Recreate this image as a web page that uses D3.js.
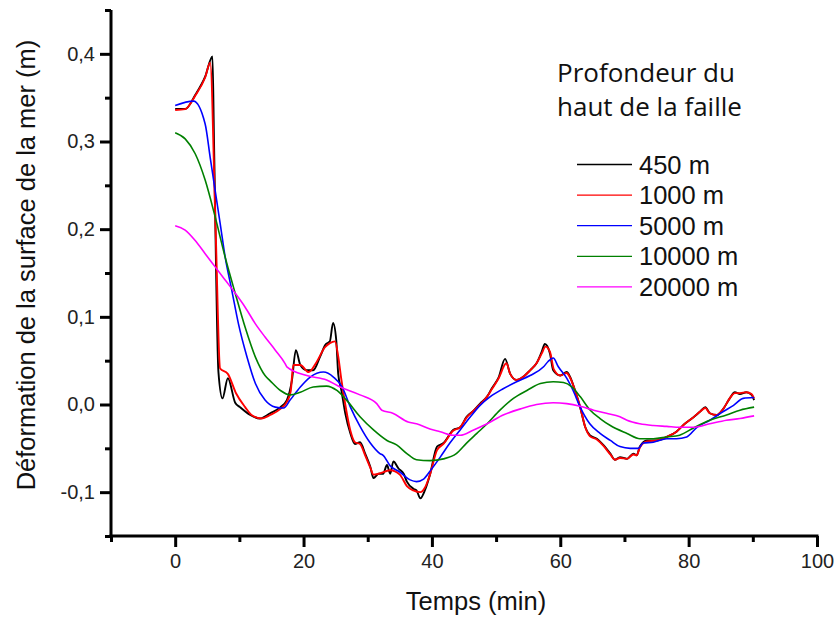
<!DOCTYPE html>
<html><head><meta charset="utf-8">
<script src="https://cdn.jsdelivr.net/npm/d3@7"></script>
<style>body{margin:0;background:#fff}svg{display:block}</style>
</head><body>
<svg id="chart" width="835" height="617"></svg>
<script>
// ---- data ----
const seriesNames = ["450 m", "1000 m", "5000 m", "10000 m", "20000 m"];
const seriesColors = ["#000000", "#ff0000", "#0000ff", "#008000", "#ff00ff"];

const t450 = [0,1.56,3.12,4.67,5.81,6.05,6.74,7.37,8.21,9.35,10.1,11.7,13.2,14.8,16.4,17.4,18.2,18.8,19.5,20.5,21.5,22.6,23.4,24.1,24.6,25.1,25.4,25.9,26.5,27.3,28.0,28.8,29.6,30.4,30.9,31.7,32.4,33.0,33.5,34.0,34.8,35.6,36.1,37.1,37.6,38.2,38.9,39.7,40.8,41.8,43.3,44.4,45.4,46.5,47.5,48.6,49.3,50.4,51.4,52.2,53.2,54.3,55.3,56.3,57.1,57.6,58.4,58.9,60.0,61.0,61.5,62.3,63.1,63.9,64.6,65.7,66.7,67.8,68.5,69.3,70.4,71.4,71.9,72.4,73.5,75.0,76.6,78.1,79.4,80.5,81.8,82.6,83.3,84.4,85.4,86.4,87.2,88.0,89.0,89.8,90.2];
const v450 = [0.337,0.337,0.353,0.374,0.397,0.30,0.037,0.007,0.030,0.002,-0.003,-0.012,-0.016,-0.010,-0.003,0.005,0.028,0.062,0.045,0.039,0.039,0.055,0.068,0.072,0.093,0.073,0.035,0.016,-0.010,-0.033,-0.045,-0.043,-0.056,-0.071,-0.084,-0.079,-0.079,-0.069,-0.079,-0.065,-0.073,-0.079,-0.088,-0.096,-0.098,-0.107,-0.098,-0.080,-0.048,-0.044,-0.029,-0.026,-0.014,-0.007,0.001,0.009,0.018,0.031,0.052,0.035,0.028,0.032,0.039,0.047,0.060,0.069,0.058,0.039,0.033,0.037,0.032,0.016,-0.003,-0.026,-0.035,-0.039,-0.046,-0.056,-0.063,-0.060,-0.062,-0.056,-0.058,-0.048,-0.041,-0.041,-0.037,-0.031,-0.022,-0.016,-0.008,-0.003,-0.010,-0.012,-0.005,0.007,0.014,0.012,0.014,0.011,0.005];

const t1000 = [0,1.56,3.1,4.67,5.45,6.3,7.0,8.2,9.5,10.9,11.9,13.5,14.8,16.4,17.4,18.0,18.4,19.5,20.8,22.0,23.3,24.1,24.9,25.4,25.9,26.5,27.3,28.0,28.8,29.6,30.4,30.9,31.7,33.5,35.0,36.1,37.1,38.2,38.9,39.7,40.8,41.8,43.3,44.4,45.4,46.5,47.5,48.6,49.3,50.4,51.6,52.2,53.2,54.3,55.3,56.3,57.1,57.7,58.4,59.0,60.0,61.0,61.5,62.3,63.1,63.9,64.6,65.7,66.7,67.8,68.5,69.3,70.4,71.4,71.9,72.4,73.5,75.0,76.6,78.1,79.4,80.5,81.8,82.6,83.3,84.4,85.4,86.4,87.2,88.0,89.0,89.8,90.2];
const v1000 = [0.336,0.337,0.352,0.373,0.390,0.20,0.041,0.035,0.0125,-0.003,-0.012,-0.016,-0.012,-0.005,0.003,0.015,0.045,0.045,0.037,0.048,0.065,0.070,0.072,0.055,0.028,0.000,-0.030,-0.043,-0.045,-0.058,-0.072,-0.080,-0.079,-0.075,-0.080,-0.093,-0.098,-0.100,-0.095,-0.080,-0.052,-0.045,-0.030,-0.026,-0.015,-0.007,0.000,0.009,0.017,0.030,0.047,0.035,0.028,0.032,0.039,0.047,0.058,0.066,0.060,0.040,0.033,0.036,0.031,0.016,-0.003,-0.026,-0.036,-0.040,-0.047,-0.057,-0.063,-0.061,-0.062,-0.057,-0.058,-0.049,-0.042,-0.041,-0.037,-0.031,-0.022,-0.016,-0.008,-0.004,-0.010,-0.012,-0.005,0.007,0.013,0.013,0.014,0.012,0.007];

const t5000 = [0,2.85,4.67,5.45,6.23,7.0,7.79,8.83,9.86,11.2,12.5,14.0,15.6,16.9,17.9,19.5,21.0,23.1,24.7,26.0,27.3,28.8,30.4,31.9,32.4,33.5,35.0,36.6,37.6,38.7,39.7,41.3,42.8,44.4,46.0,47.5,49.1,51.1,53.2,55.3,57.4,58.1,58.9,59.7,61.0,62.0,63.1,64.6,66.2,67.8,69.3,70.9,72.2,72.9,74.5,76.6,78.1,79.7,81.3,83.3,85.4,87.0,88.5,90.2];
const v5000 = [0.341,0.346,0.320,0.282,0.244,0.207,0.168,0.130,0.092,0.054,0.024,0.005,-0.003,-0.004,0.005,0.020,0.031,0.037,0.031,0.020,-0.003,-0.025,-0.044,-0.056,-0.058,-0.070,-0.077,-0.086,-0.088,-0.085,-0.076,-0.060,-0.044,-0.029,-0.014,-0.001,0.009,0.018,0.026,0.033,0.043,0.049,0.053,0.043,0.030,0.016,-0.003,-0.022,-0.033,-0.041,-0.048,-0.050,-0.050,-0.044,-0.043,-0.039,-0.039,-0.037,-0.026,-0.018,-0.008,-0.001,0.007,0.008];

const t10000 = [0,1.56,3.12,4.67,6.23,7.79,9.35,10.9,12.5,14.0,14.8,16.4,17.9,19.5,21.5,23.6,25.2,26.7,28.8,30.9,33.0,34.5,36.1,37.6,39.7,41.8,43.8,45.4,47.0,48.6,50.6,52.7,54.8,56.9,58.9,60.5,61.8,63.1,64.6,66.2,67.8,70.4,72.4,74.5,76.6,78.6,80.7,83.3,85.9,88.0,90.2];
const v10000 = [0.310,0.303,0.286,0.256,0.214,0.168,0.127,0.088,0.054,0.033,0.027,0.016,0.011,0.014,0.020,0.021,0.016,0.005,-0.014,-0.029,-0.041,-0.046,-0.056,-0.063,-0.064,-0.062,-0.056,-0.044,-0.033,-0.022,-0.0065,0.007,0.016,0.024,0.026,0.025,0.020,0.009,-0.006,-0.016,-0.024,-0.033,-0.039,-0.039,-0.037,-0.035,-0.027,-0.018,-0.012,-0.0065,-0.003];

const t20000 = [0,1.56,3.12,4.67,6.23,7.79,9.35,10.9,12.5,14.0,15.6,17.1,17.4,20.5,23.6,25.7,28.8,31.4,32.2,33.9,36.3,37.6,39.7,41.3,43.3,44.4,46.5,48.6,51.1,53.8,56.3,58.9,61.0,63.1,65.2,67.2,69.3,70.4,72.4,74.5,76.6,78.6,80.7,83.3,85.9,88.0,90.2];
const v20000 = [0.204,0.199,0.187,0.172,0.157,0.142,0.127,0.111,0.092,0.077,0.062,0.047,0.043,0.033,0.028,0.020,0.011,0.001,-0.0065,-0.010,-0.020,-0.022,-0.028,-0.031,-0.035,-0.035,-0.029,-0.022,-0.012,-0.005,0.000,0.002,0.001,-0.002,-0.0065,-0.010,-0.014,-0.018,-0.022,-0.024,-0.025,-0.026,-0.026,-0.022,-0.018,-0.016,-0.013];

const xMajorTicks = [0, 20, 40, 60, 80, 100];
const xMinorTicks = [-10, 10, 30, 50, 70, 90];
const yMajorTicks = [-0.1, 0.0, 0.1, 0.2, 0.3, 0.4];
const yMinorTicks = [-0.15, -0.05, 0.05, 0.15, 0.25, 0.35, 0.45];

const xTitle = "Temps (min)";
const yTitle = "Déformation de la surface de la mer (m)";
const legendTitle = ["Profondeur du", "haut de la faille"];

// ---- drawing ----
const svg = d3.select("#chart");
const x = d3.scaleLinear().domain([-10, 100]).range([111, 817]);
const y = d3.scaleLinear().domain([-0.15, 0.45]).range([536, 10]);

const series = [
  {t: t450, v: v450, w: 1.9},
  {t: t1000, v: v1000, w: 1.9},
  {t: t5000, v: v5000, w: 1.6},
  {t: t10000, v: v10000, w: 1.6},
  {t: t20000, v: v20000, w: 1.6}
];

const line = d3.line().x(d => x(d[0])).y(d => y(d[1])).curve(d3.curveMonotoneX);
series.forEach((s, i) => {
  const pts = s.t.map((tt, k) => [tt, s.v[k]]);
  svg.append("path").datum(pts)
    .attr("d", line)
    .attr("fill", "none")
    .attr("stroke", seriesColors[i])
    .attr("stroke-width", s.w)
    .attr("stroke-linejoin", "round");
});

const fmt = d => d.toFixed(1).replace(".", ",");
const tickFont = "'Liberation Sans', Arial, sans-serif";

function styleAxis(g) {
  g.select(".domain").remove();
  g.selectAll(".tick line").attr("stroke", "#000").attr("stroke-width", 3);
  g.selectAll(".tick text").attr("font-family", tickFont).attr("font-size", 20).attr("fill", "#222");
}

// y axis
const yMinor = svg.append("g").attr("transform", "translate(111,0)")
  .call(d3.axisLeft(y).tickValues(yMinorTicks).tickSize(6).tickFormat(""));
styleAxis(yMinor);
const yMajor = svg.append("g").attr("transform", "translate(111,0)")
  .call(d3.axisLeft(y).tickValues(yMajorTicks).tickSize(11).tickPadding(5).tickFormat(fmt));
styleAxis(yMajor);

// x axis
const xMinor = svg.append("g").attr("transform", "translate(0,536)")
  .call(d3.axisBottom(x).tickValues(xMinorTicks).tickSize(6).tickFormat(""));
styleAxis(xMinor);
const xMajor = svg.append("g").attr("transform", "translate(0,536)")
  .call(d3.axisBottom(x).tickValues(xMajorTicks).tickSize(11).tickPadding(7).tickFormat(d => d));
styleAxis(xMajor);

// axis lines
svg.append("line").attr("x1", x(-10)).attr("x2", x(-10)).attr("y1", y(0.45)).attr("y2", y(-0.15) + 1.5)
  .attr("stroke", "#000").attr("stroke-width", 3);
svg.append("line").attr("x1", x(-10) - 1.5).attr("x2", x(100) + 1.5).attr("y1", y(-0.15)).attr("y2", y(-0.15))
  .attr("stroke", "#000").attr("stroke-width", 3);

// axis titles
svg.append("text").attr("x", 476).attr("y", 610).attr("text-anchor", "middle")
  .attr("font-family", tickFont).attr("font-size", 25.5).attr("fill", "#111").text(xTitle);
svg.append("text").attr("transform", "translate(35,265) rotate(-90)").attr("text-anchor", "middle")
  .attr("font-family", tickFont).attr("font-size", 25.5).attr("fill", "#111").text(yTitle);

// legend
legendTitle.forEach((s, i) => {
  svg.append("text").attr("x", 557).attr("y", 82 + i * 34)
    .attr("font-family", "'Open Sans', 'Noto Sans', sans-serif").attr("font-size", 26).attr("fill", "#111").text(s);
});
seriesNames.forEach((name, i) => {
  const yy = 164.5 + i * 30.6;
  svg.append("line").attr("x1", 577).attr("x2", 632).attr("y1", yy).attr("y2", yy)
    .attr("stroke", seriesColors[i]).attr("stroke-width", 1.3);
  svg.append("text").attr("x", 639).attr("y", yy + 9)
    .attr("font-family", tickFont).attr("font-size", 25.5).attr("fill", "#111").text(name);
});
</script>
</body></html>
